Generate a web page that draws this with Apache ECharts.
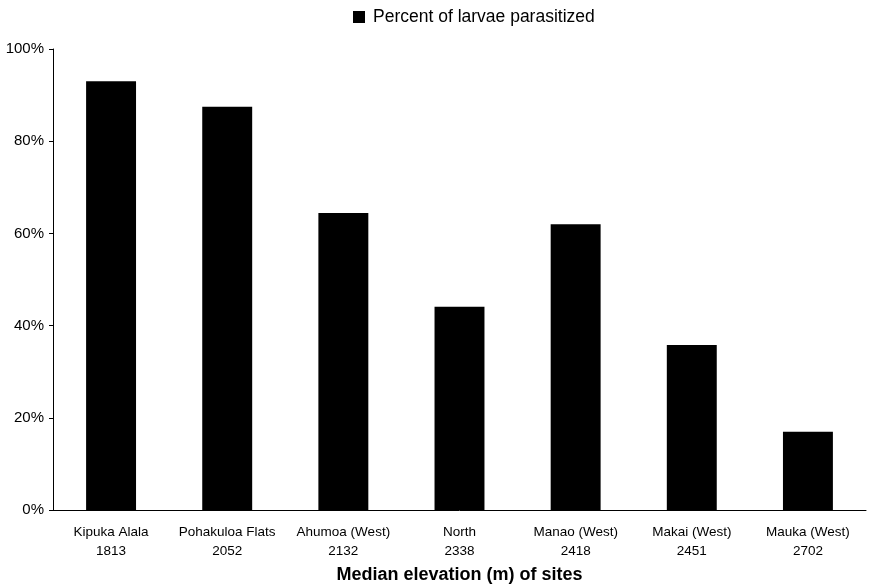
<!DOCTYPE html>
<html><head><meta charset="utf-8">
<script src="https://cdn.jsdelivr.net/npm/echarts@6/dist/echarts.min.js"></script>
<style>html,body{margin:0;padding:0;background:#fff}#c{width:871px;height:585px}</style>
</head><body><div id="c"></div>
<script>
const sites = ["Kipuka Alala", "Pohakuloa Flats", "Ahumoa (West)", "North", "Manao (West)", "Makai (West)", "Mauka (West)"];
const elevations = ["1813", "2052", "2132", "2338", "2418", "2451", "2702"];
const percentParasitized = [93.0, 87.5, 64.4, 44.1, 62.0, 35.8, 17.0];
const seriesName = "Percent of larvae parasitized";
const xTitle = "Median elevation (m) of sites";

const chart = echarts.init(document.getElementById('c'), null, {renderer: 'canvas'});
chart.setOption({
  animation: false,
  backgroundColor: '#fff',
  textStyle: {fontFamily: 'Liberation Sans, Arial, sans-serif'},
  legend: {
    top: 3, left: 348,
    itemWidth: 12, itemHeight: 12, icon: 'rect', itemGap: 8,
    textStyle: {fontSize: 17.5, color: '#000', padding: [0, 0, 0, 3], fontFamily: 'Liberation Sans, Arial, sans-serif'},
    data: [seriesName]
  },
  grid: {left: 53, right: 5, top: 49, bottom: 75, containLabel: false, outerBoundsMode: 'none'},
  xAxis: {
    type: 'category',
    data: sites.map((s, i) => s + '\n' + elevations[i]),
    axisLine: {lineStyle: {color: '#000', width: 1}},
    axisTick: {show: false},
    axisLabel: {color: '#000', fontSize: 13.5, lineHeight: 19, margin: 13, interval: 0},
    name: xTitle, nameLocation: 'middle', nameGap: 54,
    nameTextStyle: {fontSize: 18, fontWeight: 'bold', color: '#000'}
  },
  yAxis: {
    type: 'value', min: 0, max: 100, interval: 20,
    axisLine: {show: true, lineStyle: {color: '#000', width: 1}},
    axisTick: {show: true, length: 4, lineStyle: {color: '#000'}},
    splitLine: {show: false},
    axisLabel: {color: '#000', fontSize: 15, formatter: '{value}%', margin: 9}
  },
  series: [{
    name: seriesName, type: 'bar', data: percentParasitized,
    barWidth: '43%',
    itemStyle: {color: '#000'}
  }]
});
</script></body></html>
